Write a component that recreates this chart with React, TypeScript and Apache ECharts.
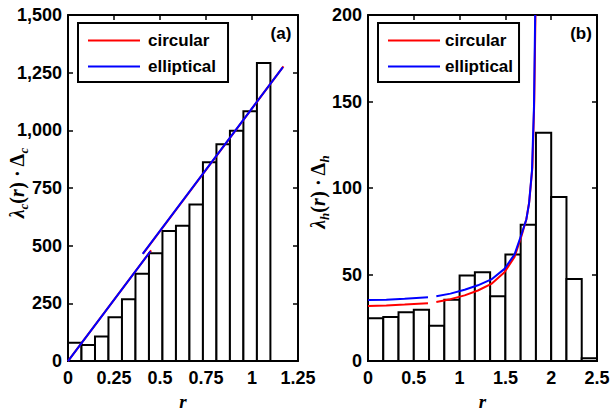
import React, { useEffect, useRef } from "react";
import * as echarts from "echarts";

// ---- Panel (a) data ----
const aBinEdges = [0, 0.0733, 0.1467, 0.22, 0.2933, 0.3667, 0.44, 0.5133, 0.5867, 0.66, 0.7333, 0.8067, 0.88, 0.9533, 1.0267, 1.1];
const aCounts = [79, 70, 107, 190, 268, 379, 467, 564, 587, 679, 862, 940, 998, 1083, 1292];
const aCircSeg1 = [[0, 0], [0.2, 212], [0.452, 480]];
const aCircSeg2 = [[0.408, 466], [0.8, 882], [1.171, 1277]];
const aEllSeg1 = [[0, 0], [0.2, 212], [0.448, 476]];
const aEllSeg2 = [[0.406, 465], [0.8, 883], [1.168, 1274]];
const aXTicks = { min: 0, max: 1.25, interval: 0.25 };
const aYTicks = { min: 0, max: 1500, interval: 250 };

// ---- Panel (b) data ----
const bBinEdges = [0, 0.1667, 0.3333, 0.5, 0.6667, 0.8333, 1, 1.1667, 1.3333, 1.5, 1.6667, 1.8333, 2, 2.1667, 2.3333, 2.5];
const bCounts = [24.7, 25.5, 28.3, 29.7, 20.4, 35.4, 49.4, 51.3, 37.5, 61.6, 78.8, 132, 94.8, 47.4, 1.7];
const bCircSeg1 = [[0, 31.9], [0.2, 32.2], [0.4, 32.7], [0.655, 33.4]];
const bCircSeg2 = [[0.746, 34.2], [0.9, 35.8], [1.055, 38], [1.2, 40.8], [1.346, 44.6], [1.49, 51.4], [1.6, 60.2], [1.674, 72], [1.729, 82], [1.76, 92], [1.795, 112], [1.815, 150], [1.828, 200]];
const bEllSeg1 = [[0, 35.3], [0.2, 35.5], [0.4, 36], [0.655, 36.9]];
const bEllSeg2 = [[0.746, 37.5], [0.9, 39], [1.055, 41.2], [1.2, 43.8], [1.346, 47.2], [1.49, 53.3], [1.6, 61.7], [1.674, 73], [1.729, 82], [1.758, 91], [1.79, 110], [1.812, 147], [1.825, 200]];
const bXTicks = { min: 0, max: 2.5, interval: 0.5 };
const bYTicks = { min: 0, max: 200, interval: 50 };

const legendNames = ["circular", "elliptical"];
const panelLabels = ["(a)", "(b)"];

const RED = "#ff0000";
const BLUE = "#0000ff";
const SANS = "Liberation Sans, Arial, sans-serif";
const SERIF = "Liberation Serif, Times New Roman, serif";

function histData(edges: number[], counts: number[]) {
  return counts.map((c, i) => [edges[i], edges[i + 1], c]);
}

const renderBar = (params: any, api: any) => {
  const p0 = api.coord([api.value(0), api.value(2)]);
  const p1 = api.coord([api.value(1), 0]);
  return {
    type: "rect",
    shape: { x: p0[0], y: p0[1], width: p1[0] - p0[0], height: p1[1] - p0[1] },
    style: { fill: "#ffffff", stroke: "#000000", lineWidth: 2 },
  };
};

const fmtThousands = (v: number) => {
  const s = String(Math.round(v));
  return s.replace(/\B(?=(\d{3})+(?!\d))/g, ",");
};

function mainX(gridIndex: number, t: any, name: string) {
  return {
    type: "value", gridIndex, position: "bottom", ...t,
    name, nameLocation: "middle", nameGap: 25,
    nameTextStyle: { fontFamily: SERIF, fontStyle: "italic", fontWeight: "bold", fontSize: 19, color: "#000" },
    axisLine: { show: true, onZero: false, lineStyle: { color: "#000", width: 2 } },
    axisTick: { show: true, inside: true, length: 5, lineStyle: { color: "#000", width: 1.5 } },
    axisLabel: { show: true, margin: 8, fontFamily: SANS, fontWeight: "bold", fontSize: 18, color: "#000", showMaxLabel: true, showMinLabel: true },
    splitLine: { show: false },
  };
}
function mirrorX(gridIndex: number, t: any) {
  return {
    type: "value", gridIndex, position: "top", ...t,
    axisLine: { show: true, onZero: false, lineStyle: { color: "#000", width: 2 } },
    axisTick: { show: true, inside: true, length: 5, lineStyle: { color: "#000", width: 1.5 } },
    axisLabel: { show: false },
    splitLine: { show: false },
  };
}
function mainY(gridIndex: number, t: any, fmt?: (v: number) => string) {
  return {
    type: "value", gridIndex, position: "left", ...t,
    axisLine: { show: true, onZero: false, lineStyle: { color: "#000", width: 2 } },
    axisTick: { show: true, inside: true, length: 5, lineStyle: { color: "#000", width: 1.5 } },
    axisLabel: { show: true, margin: 6, fontFamily: SANS, fontWeight: "bold", fontSize: 18, color: "#000", formatter: fmt },
    splitLine: { show: false },
  };
}
function mirrorY(gridIndex: number, t: any) {
  return {
    type: "value", gridIndex, position: "right", ...t,
    axisLine: { show: true, onZero: false, lineStyle: { color: "#000", width: 2 } },
    axisTick: { show: true, inside: true, length: 5, lineStyle: { color: "#000", width: 1.5 } },
    axisLabel: { show: false },
    splitLine: { show: false },
  };
}

function lineSeries(name: string, data: number[][], color: string, xi: number, yi: number) {
  return {
    type: "line", name, data, xAxisIndex: xi, yAxisIndex: yi,
    showSymbol: false, symbol: "none", smooth: false,
    lineStyle: { color, width: 2 }, itemStyle: { color },
    z: color === BLUE ? 4 : 3,
  };
}

function legendBox(left: number, padding: number[], textPad: number[]) {
  return {
    orient: "vertical", left, top: 23,
    data: legendNames,
    borderColor: "#000", borderWidth: 2, backgroundColor: "#fff",
    padding, itemGap: 9, itemWidth: 52, itemHeight: 2, icon: "rect",
    textStyle: { fontFamily: SANS, fontWeight: "bold", fontSize: 17, color: "#000", padding: textPad },
    selectedMode: false,
  };
}

function yLabel(x: number, y: number, sub: string) {
  const base = { fontFamily: SERIF, fontWeight: "bold", fontSize: 20, lineHeight: 22, verticalAlign: "bottom", fill: "#000" };
  return {
    type: "text", x, y, rotation: Math.PI / 2,
    style: {
      text: `{l|λ}{s|${sub}}{n|(}{l|r}{n|) · Δ}{s|${sub}}`,
      align: "center", verticalAlign: "middle",
      rich: {
        l: { ...base, fontStyle: "italic" },
        n: { ...base },
        s: { fontFamily: SERIF, fontStyle: "italic", fontWeight: "bold", fontSize: 13, lineHeight: 13, verticalAlign: "bottom", padding: [0, 0, -3, 0], fill: "#000" },
      },
    },
  };
}

export default function App() {
  const ref = useRef<HTMLDivElement>(null);
  useEffect(() => {
    if (!ref.current) return;
    const chart = echarts.init(ref.current, undefined, { renderer: "svg" });
    chart.setOption({
      animation: false,
      backgroundColor: "#fff",
      grid: [
        { left: 68, top: 15, width: 230, height: 360 },
        { left: 368, top: 15, width: 229, height: 359 },
      ],
      xAxis: [mainX(0, aXTicks, "r"), mirrorX(0, aXTicks), mainX(1, bXTicks, "r"), mirrorX(1, bXTicks)],
      yAxis: [mainY(0, aYTicks, fmtThousands), mirrorY(0, aYTicks), mainY(1, bYTicks), mirrorY(1, bYTicks)],
      legend: [
        legendBox(78, [9, 12, 7, 10], [0, 0, 0, 3]),
        legendBox(378, [9, 6, 7, 10], [0, 0, 0, 0]),
      ],
      series: [
        { type: "custom", name: "hist-a", renderItem: renderBar, data: histData(aBinEdges, aCounts), xAxisIndex: 0, yAxisIndex: 0, z: 1 },
        { type: "custom", name: "hist-b", renderItem: renderBar, data: histData(bBinEdges, bCounts), xAxisIndex: 2, yAxisIndex: 2, z: 1 },
        lineSeries("circular", aCircSeg1, RED, 0, 0),
        lineSeries("circular", aCircSeg2, RED, 0, 0),
        lineSeries("elliptical", aEllSeg1, BLUE, 0, 0),
        lineSeries("elliptical", aEllSeg2, BLUE, 0, 0),
        lineSeries("circular", bCircSeg1, RED, 2, 2),
        lineSeries("circular", bCircSeg2, RED, 2, 2),
        lineSeries("elliptical", bEllSeg1, BLUE, 2, 2),
        lineSeries("elliptical", bEllSeg2, BLUE, 2, 2),
      ],
      graphic: [
        { type: "text", x: 281, y: 33, style: { text: panelLabels[0], fontFamily: SANS, fontWeight: "bold", fontSize: 17, fill: "#000", align: "center", verticalAlign: "middle" } },
        { type: "text", x: 581, y: 33, style: { text: panelLabels[1], fontFamily: SANS, fontWeight: "bold", fontSize: 17, fill: "#000", align: "center", verticalAlign: "middle" } },
        yLabel(16, 183, "c"),
        yLabel(317, 192, "h"),
      ],
    });
    return () => chart.dispose();
  }, []);
  return <div ref={ref} style={{ position: "fixed", left: 0, top: 0, width: 613, height: 416, background: "#fff" }} />;
}
